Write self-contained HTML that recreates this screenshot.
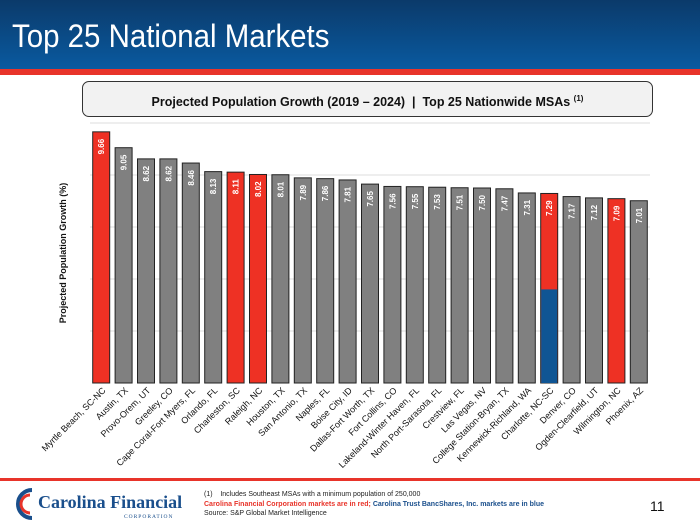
<!DOCTYPE html>
<html><head><meta charset="utf-8">
<style>
body{margin:0;width:700px;height:524px;overflow:hidden;background:#fff;font-family:"Liberation Sans",sans-serif;position:relative}
.hdr{position:absolute;left:0;top:0;width:700px;height:69px;background:linear-gradient(#0b3a6a,#0a5aa0)}
.red{position:absolute;left:0;top:69px;width:700px;height:6px;background:#e8342a}
.title{position:absolute;left:12px;top:18px;color:#fff;font-size:32px;transform:scaleX(0.92);transform-origin:left}
.sub{position:absolute;left:82px;top:81px;width:569px;height:34px;border:1px solid #333;border-radius:7px;background:#f2f2f2;text-align:center;line-height:34px;font-weight:bold;font-size:12.5px;color:#111}
.sub sup{font-size:8px}
.fred{position:absolute;left:0;top:478px;width:700px;height:3px;background:#e8342a}
.notes{position:absolute;left:204px;top:490px;font-size:7px;line-height:9.5px;color:#222}
.pg{position:absolute;left:650px;top:498px;font-size:14px;color:#111}
</style></head><body>
<div class="hdr"></div>
<div class="red"></div>
<div class="title">Top 25 National Markets</div>
<div class="sub">Projected Population Growth (2019 – 2024)&nbsp; |&nbsp; Top 25 Nationwide MSAs <sup>(1)</sup></div>
<svg id="chart" width="700" height="524" style="position:absolute;left:0;top:0"></svg>
<div class="fred"></div>
<svg style="position:absolute;left:4px;top:486px" width="195" height="36">
<path d="M28 4 A14 14 0 1 0 28 32" fill="none" stroke="#1a4f8c" stroke-width="4"/>
<path d="M26 9 A9 9 0 1 0 26 27" fill="none" stroke="#e8342a" stroke-width="3"/>
<text x="34" y="22" font-family="Liberation Serif,serif" font-size="18" font-weight="bold" fill="#1a4f8c">Carolina Financial</text>
<text x="120" y="32" font-family="Liberation Serif,serif" font-size="5.5" fill="#1a4f8c" letter-spacing="1">CORPORATION</text>
</svg>
<div class="notes">(1)&nbsp;&nbsp;&nbsp; Includes Southeast MSAs with a minimum population of 250,000<br><span style="color:#e8342a;font-weight:bold">Carolina Financial Corporation markets are in red; </span><span style="color:#1a4f8c;font-weight:bold">Carolina Trust BancShares, Inc. markets are in blue</span><br>Source: S&amp;P Global Market Intelligence</div>
<div class="pg">11</div>
<script>
const categories=["Myrtle Beach, SC-NC","Austin, TX","Provo-Orem, UT","Greeley, CO","Cape Coral-Fort Myers, FL","Orlando, FL","Charleston, SC","Raleigh, NC","Houston, TX","San Antonio, TX","Naples, FL","Boise City, ID","Dallas-Fort Worth, TX","Fort Collins, CO","Lakeland-Winter Haven, FL","North Port-Sarasota, FL","Crestview, FL","Las Vegas, NV","College Station-Bryan, TX","Kennewick-Richland, WA","Charlotte, NC-SC","Denver, CO","Ogden-Clearfield, UT","Wilmington, NC","Phoenix, AZ"];
const values=[9.66,9.05,8.62,8.62,8.46,8.13,8.11,8.02,8.01,7.89,7.86,7.81,7.65,7.56,7.55,7.53,7.51,7.50,7.47,7.31,7.29,7.17,7.12,7.09,7.01];
const redMarkets=["Myrtle Beach, SC-NC","Charleston, SC","Raleigh, NC","Charlotte, NC-SC","Wilmington, NC"];
const blueSegment={"Charlotte, NC-SC":3.6};
const yTicks=[0,2,4,6,8,10];
const svg=document.getElementById('chart');const NS='http://www.w3.org/2000/svg';
const x0=90,x1=650,y0=383,yTop=123,yMax=10;
const y=v=>y0-(v/yMax)*(y0-yTop);
const step=(x1-x0)/categories.length,bw=17;
const xc=i=>x0+step*(i+0.5);
function mk(t,a){const e=document.createElementNS(NS,t);for(const k in a)e.setAttribute(k,a[k]);svg.appendChild(e);return e;}
yTicks.forEach(t=>{if(t===0)return;const l=mk('line',{x1:x0,x2:x1,y1:y(t),y2:y(t),stroke:'#e8e8e8','stroke-width':1.5});

});
const yt=mk('text',{x:0,y:0,transform:'translate(66,253) rotate(-90)','text-anchor':'middle','font-size':'9','font-weight':'bold',fill:'#111'});
yt.textContent='Projected Population Growth (%)';


categories.forEach((c,i)=>{
  const v=values[i],cx=xc(i),bx=cx-bw/2;
  const fill=redMarkets.includes(c)?'#ee3124':'#808080';
  const r=mk('rect',{x:bx,y:y(v),width:bw,height:y0-y(v),fill:fill,stroke:'#222','stroke-width':1});
  
  
  if(blueSegment[c]!==undefined){const b=mk('rect',{x:bx+0.5,y:y(blueSegment[c]),width:bw-1,height:y0-y(blueSegment[c]),fill:'#0f5594'});
    
    }
  const vl=mk('text',{x:0,y:0,transform:`translate(${cx+3},${y(v)+7}) rotate(-90)`,'text-anchor':'end','font-size':'8','font-weight':'bold',fill:'#fff'});
  vl.textContent=v.toFixed(2);
  
  
  const cl=mk('text',{x:0,y:0,transform:`translate(${cx+5},${y0+8}) rotate(-45)`,'text-anchor':'end','font-size':'9',fill:'#111'});
  cl.textContent=c;
  
  
});
</script>
</body></html>
